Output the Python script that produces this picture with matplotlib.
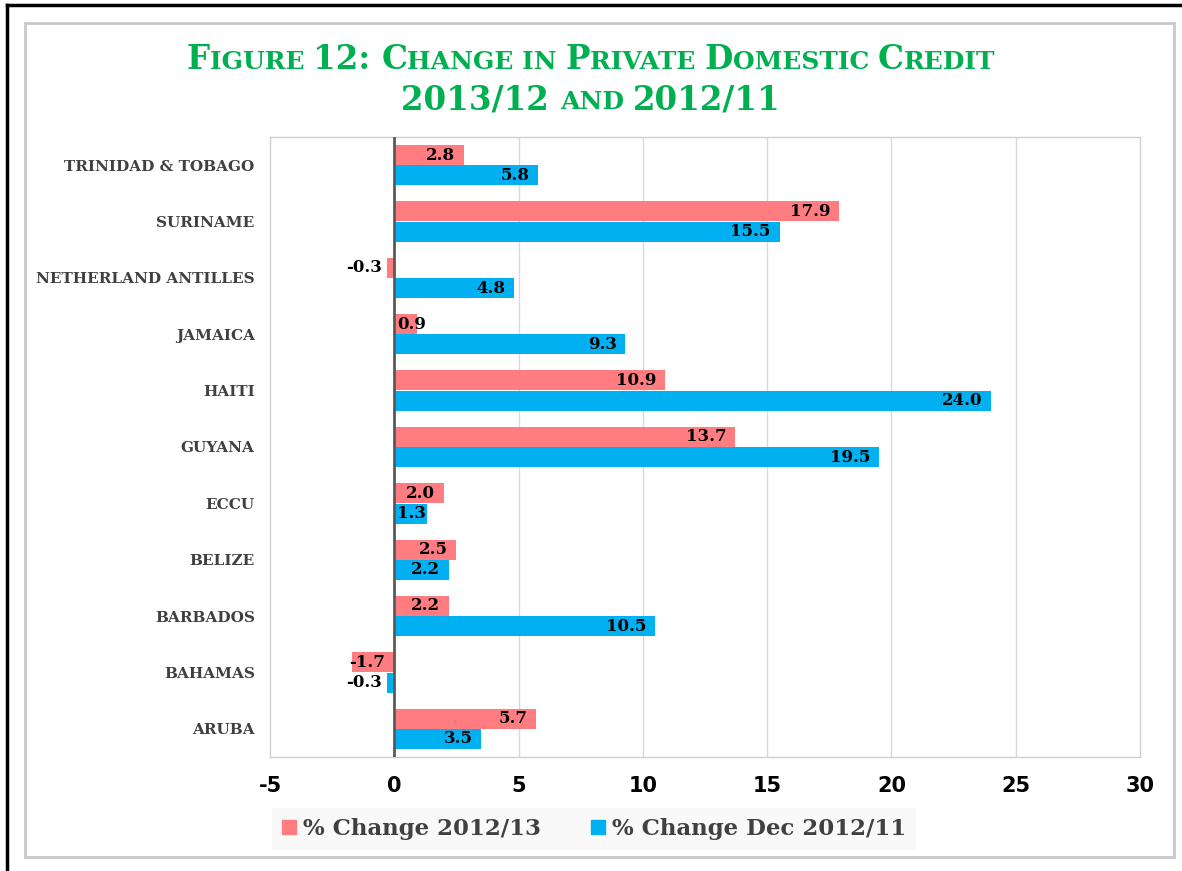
import numpy as np
import matplotlib
matplotlib.use("Agg")
import matplotlib.pyplot as plt
from matplotlib.patches import Rectangle, Patch
from matplotlib.lines import Line2D

# data, bottom to top as drawn
countries = ["ARUBA", "BAHAMAS", "BARBADOS", "BELIZE", "ECCU", "GUYANA", "HAITI",
             "JAMAICA", "NETHERLAND ANTILLES", "SURINAME", "TRINIDAD & TOBAGO"]
chg_2012_13 = [5.7, -1.7, 2.2, 2.5, 2.0, 13.7, 10.9, 0.9, -0.3, 17.9, 2.8]
chg_dec_2012_11 = [3.5, -0.3, 10.5, 2.2, 1.3, 19.5, 24.0, 9.3, 4.8, 15.5, 5.8]
series_names = ["% Change 2012/13", "% Change Dec 2012/11"]
xticks = [-5, 0, 5, 10, 15, 20, 25, 30]

PINK = "#FF7C80"
BLUE = "#00B0F0"
GREEN = "#00B050"
DARK = "#404040"

W, H = 1182, 871
fig = plt.figure(figsize=(W / 100, H / 100), dpi=100)

# outer frames
fig.add_artist(Line2D([7 / W, 7 / W], [0, 1 - 5 / H], color="black", lw=2.5))
fig.add_artist(Line2D([7 / W, 1], [1 - 5 / H, 1 - 5 / H], color="black", lw=2.5))
fig.add_artist(Rectangle((25 / W, 1 - 857 / H), (1174 - 25) / W, (857 - 23) / H,
                         fill=False, edgecolor="#C8C8C8", lw=2))

ax = fig.add_axes([270 / W, 1 - 757 / H, (1140 - 270) / W, (757 - 137) / H])

y = np.arange(len(countries))
bh = 0.355
off = 0.18
ax.barh(y + off, chg_2012_13, height=bh, color=PINK, zorder=3)
ax.barh(y - off, chg_dec_2012_11, height=bh, color=BLUE, zorder=3)

ax.set_xlim(-5, 30)
ax.set_ylim(-0.5, len(countries) - 0.5)
ax.set_xticks(xticks)
ax.set_xticklabels([str(t) for t in xticks], fontsize=15, fontweight="bold",
                   family="DejaVu Sans")
ax.set_yticks(y)
ax.set_yticklabels(countries, fontsize=11, fontweight="bold",
                   family="DejaVu Serif", color=DARK)
ax.tick_params(axis="x", length=0, pad=14)
ax.tick_params(axis="y", length=0, pad=11)
for xt in xticks[2:-1]:
    ax.axvline(xt, color="#D9D9D9", lw=1, zorder=1)
ax.axvline(0, color="#595959", lw=2, zorder=4)
for s in ax.spines.values():
    s.set_color("#D0D0D0")
    s.set_linewidth(1)


def label(v, yy):
    txt = f"{v:.1f}"
    kw = dict(fontsize=12, fontweight="bold", family="DejaVu Serif",
              va="center", color="black", zorder=5)
    if v >= 0:
        if v > 1.5:
            ax.text(v - 0.35, yy, txt, ha="right", **kw)
        else:
            ax.text(0.1, yy, txt, ha="left", **kw)
    else:
        if v < -1:
            ax.text(v - 0.1, yy, txt, ha="left", **kw)
        else:
            ax.text(v - 0.2, yy, txt, ha="right", **kw)


for i in range(len(countries)):
    label(chg_2012_13[i], y[i] + off)
    label(chg_dec_2012_11[i], y[i] - off)

# legend
handles = [Patch(color=PINK), Patch(color=BLUE)]
leg = fig.legend(handles, series_names, loc="center", bbox_to_anchor=(594 / W, 1 - 829 / H),
                 ncol=2, frameon=True, fancybox=False, handlelength=0.6, handleheight=0.6,
                 handletextpad=0.3, columnspacing=2.2, borderpad=0.45, borderaxespad=0,
                 prop=dict(family="DejaVu Serif", weight="bold", size=16.5))
leg.get_frame().set_facecolor("#F8F8F8")
leg.get_frame().set_edgecolor("none")
for t in leg.get_texts():
    t.set_color(DARK)


# small caps title
def small_caps(pieces, ybase):
    renderer = fig.canvas.get_renderer()
    texts = []
    for s, size in pieces:
        t = fig.text(0, ybase, s, fontsize=size, fontweight="bold", family="DejaVu Serif",
                     color=GREEN, va="baseline", ha="left")
        texts.append(t)
    widths = [t.get_window_extent(renderer).width for t in texts]
    total = sum(widths)
    x = (W / 2 - total / 2)
    for t, w in zip(texts, widths):
        t.set_x(x / W)
        x += w


BIG, SMALL = 23.5, 18
small_caps([("F", BIG), ("IGURE ", SMALL), ("12: ", BIG), ("C", BIG), ("HANGE IN ", SMALL),
            ("P", BIG), ("RIVATE ", SMALL), ("D", BIG), ("OMESTIC ", SMALL),
            ("C", BIG), ("REDIT", SMALL)], 1 - 69 / H)
small_caps([("2013/12 ", BIG), ("AND ", SMALL), ("2012/11", BIG)], 1 - 109 / H)

fig.savefig("out.png", dpi=100)
